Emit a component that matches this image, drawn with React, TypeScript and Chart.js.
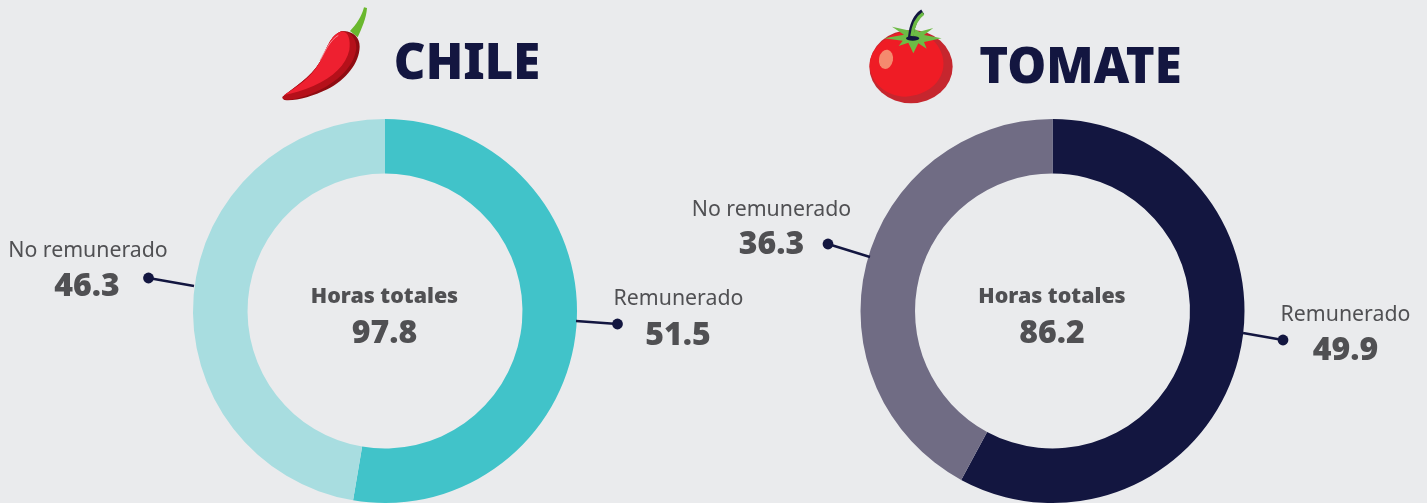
import React, { useEffect, useRef } from "react";
import { Chart, registerables } from "chart.js";
Chart.register(...registerables);

const FONT = '"Noto Sans", "Open Sans", sans-serif';
const BG = "#EAEBED";
const INK = "#131640";
const TEXT = "#505053";

const categories = ["Remunerado", "No remunerado"];
const chileValues = [51.5, 46.3];
const tomateValues = [49.9, 36.3];
const chileTotal = "97.8";
const tomateTotal = "86.2";
const chileColors = ["#41C3C9", "#A8DDE0"];
const tomateColors = ["#131640", "#706C84"];
// leader line ends, relative to the doughnut centre: [ringX, ringY, dotX, dotY]
const chileLeaders = [[191, 10, 232.5, 13], [-191, -25, -236.5, -33]];
const tomateLeaders = [[190.5, 22, 230.5, 29], [-182.5, -54, -224.5, -67]];

type DonutProps = { values: number[]; colors: string[]; leaders: number[][]; left: number; width: number; padLeft: number; padRight: number };

function Donut({ values, colors, leaders, left, width, padLeft, padRight }: DonutProps) {
  const ref = useRef<HTMLCanvasElement>(null);
  useEffect(() => {
    const chart = new Chart(ref.current!, {
      type: "doughnut",
      data: { labels: categories, datasets: [{ data: values, backgroundColor: colors, borderWidth: 0 } as any] },
      options: {
        animation: false,
        responsive: false,
        radius: 192,
        cutout: "71.6%",
        layout: { padding: { left: padLeft, right: padRight, top: 0, bottom: 0 } },
        plugins: { legend: { display: false }, tooltip: { enabled: false } },
      },
      plugins: [{
        id: "leaders",
        afterDraw(c: any) {
          const arc = c.getDatasetMeta(0).data[0];
          const { x, y } = arc;
          const ctx = c.ctx;
          ctx.save();
          ctx.strokeStyle = INK;
          ctx.fillStyle = INK;
          ctx.lineWidth = 2.4;
          leaders.forEach(([a, b, d, e]) => {
            ctx.beginPath();
            ctx.moveTo(x + a, y + b);
            ctx.lineTo(x + d, y + e);
            ctx.stroke();
            ctx.beginPath();
            ctx.arc(x + d, y + e, 5.4, 0, Math.PI * 2);
            ctx.fill();
          });
          ctx.restore();
        },
      }],
    } as any);
    return () => chart.destroy();
  }, []);
  return <canvas ref={ref} width={width} height={622} style={{ position: "absolute", left, top: 0, width, height: 622 }} />;
}

function T({ x, y, size, weight, color, children }: { x: number; y: number; size: number; weight: number; color: string; children: React.ReactNode }) {
  return (
    <div style={{ position: "absolute", left: x - 200, top: y - 30, width: 400, height: 60, lineHeight: "60px", textAlign: "center", fontFamily: FONT, fontSize: size, fontWeight: weight, color, whiteSpace: "nowrap" }}>
      {children}
    </div>
  );
}

function ChileIcon() {
  return (
    <svg viewBox="0 0 840 330" style={{ position: "absolute", left: 270, top: 0, width: 280, height: 110 }}>
      <path d="M240 93 C258 75 275 50 282 22 L291 24 C289 55 275 85 263 112 Z" fill="#6AB82E" />
      <path d="M38 290 C70 262 120 235 150 185 C170 150 180 105 215 94 C245 90 270 110 269 140 C268 190 228 238 172 268 C130 288 85 302 50 301 C40 300 36 295 38 290Z" fill="#8F0C12" />
      <path d="M38 290 C70 262 120 235 150 185 C170 150 180 105 215 94 C240 92 260 115 259 145 C254 190 218 232 168 260 C125 283 85 298 50 299 C40 299 36 295 38 290Z" fill="#B5101A" />
      <path d="M42 285 C80 262 125 232 150 185 C170 148 180 105 212 95 C236 92 242 120 238 150 C228 195 190 232 130 258 C100 271 70 280 42 285Z" fill="#EE2030" />
      <path d="M150 182 C165 155 178 122 205 106" stroke="#F58A95" strokeWidth="3" fill="none" />
    </svg>
  );
}

function TomatoIcon() {
  return (
    <svg viewBox="0 0 330 110" style={{ position: "absolute", left: 860, top: 0, width: 330, height: 110 }}>
      <g transform="scale(0.3333)">
        <ellipse cx="153" cy="200" rx="125" ry="110" fill="#C6262E" />
        <path d="M29 195 C30 140 90 92 160 92 C215 98 255 150 250 200 C245 245 205 285 135 290 C75 288 30 245 29 195Z" fill="#EF1C25" />
        <ellipse cx="78" cy="178" rx="21" ry="29" transform="rotate(10 78 178)" fill="#F58A6E" />
        <path d="M72 115 L132 104 L96 80 L150 92 L160 85 L178 95 L220 84 L192 105 L245 115 L192 126 L200 146 L175 130 L160 160 L145 128 L116 138 L128 122 Z" fill="#6DBB45" />
        <ellipse cx="158" cy="115" rx="20" ry="7" fill={INK} />
        <path d="M152 112 C155 80 165 50 188 35" stroke={INK} strokeWidth="16" fill="none" />
        <path d="M156 108 C159 80 170 54 190 40" stroke="#6DBB45" strokeWidth="10" fill="none" />
      </g>
    </svg>
  );
}

export default function App() {
  return (
    <div style={{ position: "fixed", left: 0, top: 0, width: 1427, height: 503, overflow: "hidden", background: BG }}>
      <Donut values={chileValues} colors={chileColors} leaders={chileLeaders} left={0} width={720} padLeft={50} padRight={0} />
      <Donut values={tomateValues} colors={tomateColors} leaders={tomateLeaders} left={713} width={714} padLeft={0} padRight={35} />
      <ChileIcon />
      <TomatoIcon />
      <T x={467} y={60} size={49} weight={900} color={INK}>CHILE</T>
      <T x={1080.5} y={64} size={49} weight={900} color={INK}>TOMATE</T>
      <T x={384.5} y={295} size={21.4} weight={900} color={TEXT}>Horas totales</T>
      <T x={384.5} y={331} size={32} weight={900} color={TEXT}>{chileTotal}</T>
      <T x={1052} y={295} size={21.4} weight={900} color={TEXT}>Horas totales</T>
      <T x={1052} y={331} size={32} weight={900} color={TEXT}>{tomateTotal}</T>
      <T x={88} y={249} size={21.3} weight={400} color={TEXT}>{categories[1]}</T>
      <T x={87} y={284} size={32} weight={900} color={TEXT}>{chileValues[1]}</T>
      <T x={678.5} y={297} size={21.3} weight={400} color={TEXT}>{categories[0]}</T>
      <T x={678} y={333} size={32} weight={900} color={TEXT}>{chileValues[0]}</T>
      <T x={771.5} y={208} size={21.3} weight={400} color={TEXT}>{categories[1]}</T>
      <T x={771.5} y={242} size={32} weight={900} color={TEXT}>{tomateValues[1]}</T>
      <T x={1345.5} y={313} size={21.3} weight={400} color={TEXT}>{categories[0]}</T>
      <T x={1345.5} y={348} size={32} weight={900} color={TEXT}>{tomateValues[0]}</T>
    </div>
  );
}
